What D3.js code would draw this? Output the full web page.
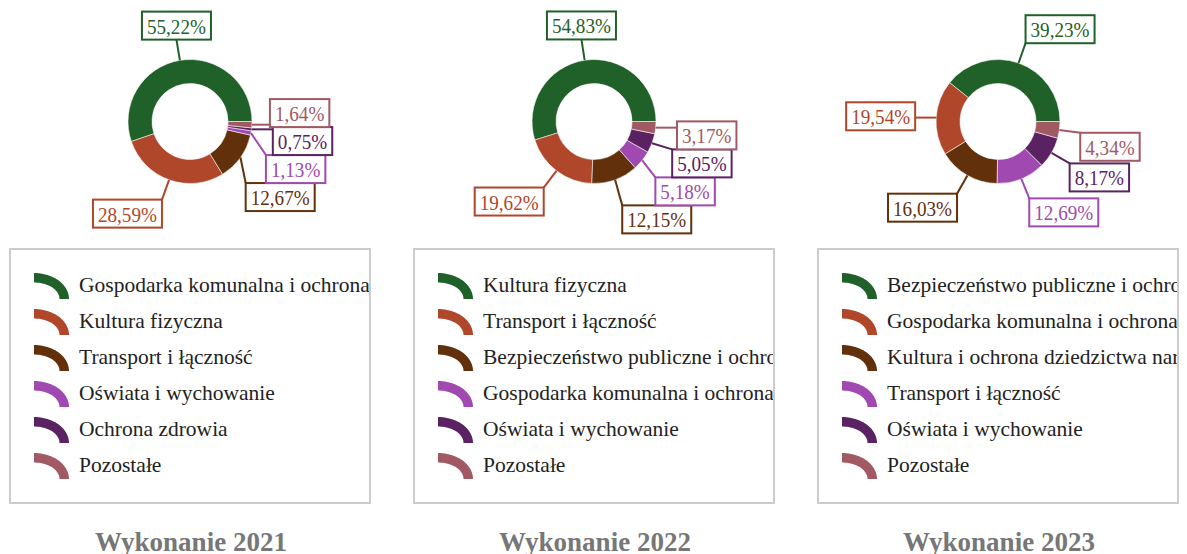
<!DOCTYPE html>
<html lang="pl">
<head>
<meta charset="utf-8">
<script src="https://cdn.jsdelivr.net/npm/d3@7"></script>
<style>
  html, body { margin: 0; padding: 0; background: #fff; }
  svg { display: block; font-family: "Liberation Serif", "Times New Roman", serif; }
</style>
</head>
<body>
<svg id="chart" width="1187" height="554"></svg>
<script>
// Struktura wydatków majątkowych według działów (udział w %)
const titles = ["Wykonanie 2021", "Wykonanie 2022", "Wykonanie 2023"];

const categories2021 = [
  "Gospodarka komunalna i ochrona środowiska",
  "Kultura fizyczna",
  "Transport i łączność",
  "Oświata i wychowanie",
  "Ochrona zdrowia",
  "Pozostałe"
];
const values2021 = [55.22, 28.59, 12.67, 1.13, 0.75, 1.64];

const categories2022 = [
  "Kultura fizyczna",
  "Transport i łączność",
  "Bezpieczeństwo publiczne i ochrona przeciwpożarowa",
  "Gospodarka komunalna i ochrona środowiska",
  "Oświata i wychowanie",
  "Pozostałe"
];
const values2022 = [54.83, 19.62, 12.15, 5.18, 5.05, 3.17];

const categories2023 = [
  "Bezpieczeństwo publiczne i ochrona przeciwpożarowa",
  "Gospodarka komunalna i ochrona środowiska",
  "Kultura i ochrona dziedzictwa narodowego",
  "Transport i łączność",
  "Oświata i wychowanie",
  "Pozostałe"
];
const values2023 = [39.23, 19.54, 16.03, 12.69, 8.17, 4.34];

const palette = ["#1f6129", "#b0462a", "#62300b", "#a049b0", "#5a2262", "#a15a64"];

const panels = [
  { title: titles[0], categories: categories2021, values: values2021 },
  { title: titles[1], categories: categories2022, values: values2022 },
  { title: titles[2], categories: categories2023, values: values2023 }
];

// Layout
const panelStep = 404;
const donutCx = 190, donutCy = 121.5;
const outerR = 62, innerR = 38;
const labelGap = 21;          // distance of the label anchor beyond the ring
const labelFont = 22, labelScaleX = 0.87, labelPad = 5, labelH = 28;
const legendBox = { x: 10, y: 249, w: 360, h: 254 };
const legendRowStep = 36, legendFont = 21.5;

const fmt = v => d3.format(".2f")(v).replace(".", ",") + "%";

const svg = d3.select("#chart");
const defs = svg.append("defs");

const pie = d3.pie()
  .sort(null)
  .value(d => d)
  .startAngle(Math.PI / 2)
  .endAngle(Math.PI / 2 - 2 * Math.PI);

const arc = d3.arc().innerRadius(innerR).outerRadius(outerR);

// Legend symbol: a quarter of an elliptical ring, thick band of even width
function legendSymbol(rxOut, ryOut, band) {
  const steps = d3.range(0, 1.0001, 1 / 24).map(t => t * Math.PI / 2);
  const outer = steps.map(a => [rxOut * Math.sin(a), -ryOut * Math.cos(a)]);
  const inner = steps.slice().reverse().map(a => [(rxOut - band) * Math.sin(a), -(ryOut - band) * Math.cos(a)]);
  return d3.line()(outer.concat(inner)) + "Z";
}
const symbolPath = legendSymbol(35, 26, 9.5);

const color = d3.scaleOrdinal().range(palette);

panels.forEach((p, pi) => {
  const ox = pi * panelStep;
  const g = svg.append("g").attr("transform", `translate(${ox},0)`);
  color.domain(d3.range(p.values.length));

  // Donut
  const arcs = pie(p.values);
  const donut = g.append("g").attr("transform", `translate(${donutCx},${donutCy})`);
  donut.selectAll("path")
    .data(arcs)
    .join("path")
    .attr("d", arc)
    .attr("fill", (d, i) => color(i))
    .attr("stroke", "rgba(255,255,255,0.55)")
    .attr("stroke-width", 1);

  // Labels: measure, place around the ring, then resolve overlaps
  const labelLayer = g.append("g");
  const labels = arcs.map((d, i) => {
    const a = (d.startAngle + d.endAngle) / 2;
    const s = Math.sin(a), c = Math.cos(a);
    const outer = [donutCx + outerR * s, donutCy - outerR * c];
    const anchor = [donutCx + (outerR + labelGap) * s, donutCy - (outerR + labelGap) * c];
    const t = labelLayer.append("text")
      .attr("font-size", labelFont)
      .text(fmt(d.data));
    const tw = t.node().getComputedTextLength() * labelScaleX;
    t.remove();
    const w = tw + 2 * labelPad, h = labelH;
    const hAlign = Math.abs(s) < 0.25 ? "center" : (s > 0 ? "left" : "right");
    const vAlign = (s < 0 && Math.abs(c) < 0.07) ? "middle" : (c < 0 ? "top" : "bottom");
    let x = hAlign === "center" ? anchor[0] - w / 2 : hAlign === "left" ? anchor[0] : anchor[0] - w;
    let y = vAlign === "middle" ? anchor[1] - h / 2 : vAlign === "top" ? anchor[1] : anchor[1] - h;
    return { i, value: d.data, text: fmt(d.data), tw, w, h, x, y, y0: y, oy: anchor[1], outer, hAlign, vAlign };
  });

  // Overlap resolution keeps the top-to-bottom order of the anchors
  const ordered = labels.slice().sort((a, b) => (a.y0 - b.y0) || (a.oy - b.oy));
  for (let iter = 0; iter < 300; iter++) {
    let moved = false;
    for (let a = 0; a < ordered.length; a++) {
      for (let b = a + 1; b < ordered.length; b++) {
        const A = ordered[a], B = ordered[b];
        const hOver = A.x < B.x + B.w && B.x < A.x + A.w;
        if (!hOver) continue;
        const ov = A.y + A.h - B.y;
        if (ov > 0.01) {
          A.y -= ov / 2;
          B.y += ov / 2;
          moved = true;
        }
      }
    }
    if (!moved) break;
  }

  // Slide shifted side labels along a circle so leaders stay short
  const rho = outerR + labelGap;
  labels.forEach(L => {
    if (L.hAlign === "center" || Math.abs(L.y - L.y0) < 0.5) return;
    const ay = L.vAlign === "middle" ? L.y + L.h / 2 : L.vAlign === "top" ? L.y : L.y + L.h;
    const dy = ay - donutCy;
    const rem = rho * rho - dy * dy;
    if (rem < (0.4 * rho) ** 2) return;
    const dx = Math.sqrt(rem);
    if (L.hAlign === "left") L.x = donutCx + dx;
    else L.x = donutCx - dx - L.w;
  });

  // Leader lines: from the ring edge to the nearest point of the label's facing side
  labels.forEach(L => {
    const col = color(L.i);
    let ax, ay;
    if (L.hAlign === "center") {
      ax = L.x + L.w / 2;
      ay = L.vAlign === "top" ? L.y : L.y + L.h;
    } else {
      ax = L.hAlign === "left" ? L.x : L.x + L.w;
      ay = Math.max(L.y, Math.min(L.y + L.h, L.outer[1]));
    }
    labelLayer.append("line")
      .attr("x1", L.outer[0]).attr("y1", L.outer[1])
      .attr("x2", ax).attr("y2", ay)
      .attr("stroke", col).attr("stroke-width", 2);
  });
  labels.forEach(L => {
    const col = color(L.i);
    const lg = labelLayer.append("g").attr("transform", `translate(${L.x},${L.y})`);
    lg.append("rect")
      .attr("width", L.w).attr("height", L.h)
      .attr("fill", "#fff").attr("stroke", col).attr("stroke-width", 2);
    lg.append("text")
      .attr("transform", `translate(${labelPad},22) scale(${labelScaleX},1)`)
      .attr("font-size", labelFont)
      .attr("fill", col)
      .text(L.text);
  });

  // Legend
  const clipId = `legend-clip-${pi}`;
  defs.append("clipPath").attr("id", clipId)
    .append("rect")
    .attr("x", legendBox.x).attr("y", legendBox.y)
    .attr("width", legendBox.w - 1).attr("height", legendBox.h);

  g.append("rect")
    .attr("x", legendBox.x).attr("y", legendBox.y)
    .attr("width", legendBox.w).attr("height", legendBox.h)
    .attr("fill", "#fff").attr("stroke", "#cccccc").attr("stroke-width", 2);

  const legend = g.append("g").attr("clip-path", `url(#${clipId})`);
  const rows = legend.selectAll("g.row")
    .data(p.categories)
    .join("g")
    .attr("class", "row")
    .attr("transform", (d, i) => `translate(${legendBox.x + 24},${299 + i * legendRowStep})`);
  rows.append("path")
    .attr("d", symbolPath)
    .attr("fill", (d, i) => color(i));
  rows.append("text")
    .attr("x", 45).attr("y", -7)
    .attr("font-size", legendFont)
    .attr("fill", "#222")
    .text(d => d);

  // Panel title
  g.append("text")
    .attr("x", donutCx + 1).attr("y", 551)
    .attr("text-anchor", "middle")
    .attr("font-size", 27)
    .attr("font-weight", "bold")
    .attr("fill", "#777")
    .text(p.title);
});
</script>
</body>
</html>
